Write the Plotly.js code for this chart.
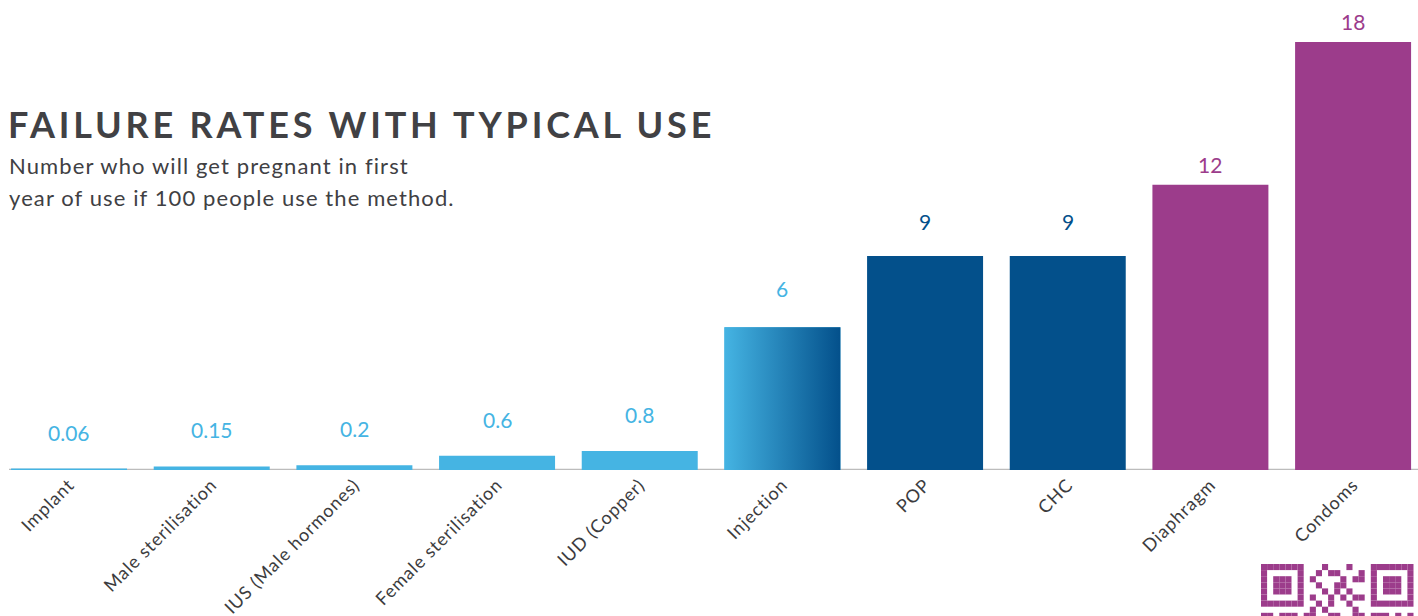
<!DOCTYPE html>
<html>
<head>
<meta charset="utf-8">
<script src="https://cdn.plot.ly/plotly-3.0.1.min.js"></script>
<style>
  html, body { margin: 0; padding: 0; background: #ffffff; }
  #chart { width: 1418px; height: 616px; }
</style>
</head>
<body>
<div id="chart"></div>
<script>
// ---- data ----
const categories = ["Implant", "Male sterilisation", "IUS (Male hormones)", "Female sterilisation",
  "IUD (Copper)", "Injection", "POP", "CHC", "Diaphragm", "Condoms"];
const failureRates = [0.06, 0.15, 0.2, 0.6, 0.8, 6, 9, 9, 12, 18];
const valueLabels = ["0.06", "0.15", "0.2", "0.6", "0.8", "6", "9", "9", "12", "18"];
const groups = ["light", "light", "light", "light", "light", "gradient", "dark", "dark", "purple", "purple"];
const titleText = "FAILURE RATES WITH TYPICAL USE";
const subtitleLines = ["Number who will get pregnant in first", "year of use if 100 people use the method."];

// ---- styles ----
const LIGHT = "#45b4e3", DARK = "#03508b", PURPLE = "#9c3c8b";
const barColor = { light: LIGHT, gradient: LIGHT, dark: DARK, purple: PURPLE };
const labelColor = { light: LIGHT, gradient: LIGHT, dark: DARK, purple: PURPLE };
const labelShift = { light: 22, gradient: 24, dark: 20, purple: 6 };
const BARGAP = 0.187;
const FONT = "Lato, 'Open Sans', sans-serif";

const xIdx = categories.map((_, i) => i);

const traces = [{
  type: "bar",
  x: xIdx,
  y: failureRates,
  marker: { color: groups.map(g => barColor[g]), line: { width: 0 } },
  hoverinfo: "skip",
  showlegend: false
}];

// gradient overlay for the Injection bar (built from its data value)
const bw = 1 - BARGAP;
groups.forEach((g, i) => {
  if (g === "gradient") {
    const v = failureRates[i];
    traces.push({
      type: "scatter",
      mode: "lines",
      x: [i - bw / 2, i + bw / 2, i + bw / 2, i - bw / 2, i - bw / 2],
      y: [0, 0, v, v, 0],
      fill: "toself",
      fillgradient: { type: "horizontal", colorscale: [[0, LIGHT], [1, DARK]] },
      line: { width: 0 },
      hoverinfo: "skip",
      showlegend: false
    });
  }
});

const annotations = failureRates.map((v, i) => ({
  x: xIdx[i], y: v, xref: "x", yref: "y",
  text: valueLabels[i], showarrow: false,
  yanchor: "bottom", yshift: labelShift[groups[i]],
  font: { family: FONT, size: 21, color: labelColor[groups[i]] }
}));
subtitleLines.forEach((line, k) => {
  annotations.push({
    xref: "paper", yref: "paper", x: 7 / 1418, y: 1 - (165 + 32 * k) / 470,
    xanchor: "left", yanchor: "middle", showarrow: false, align: "left",
    text: line, font: { family: FONT, size: 22, color: "#404043" }
  });
});

// decorative QR-code badge (bottom-right)
const qrRows = [
  "1111111000100010001111111",
  "1000001001011000101000001",
  "1011101010000101101011101",
  "1011101001001100001011101",
  "1011101000101010001011101",
  "1000001010010101101000001",
  "1111111001010010001111111",
  "0000000010100001000000000",
  "1101110110011001101110101"
];
const shapes = [{
  type: "line", xref: "paper", yref: "y", x0: 9 / 1418, x1: 1, y0: 0, y1: 0,
  line: { color: "#bcbcbc", width: 2.5 }, layer: "below"
}];
const qrX0 = 1261, qrY0 = 564, mod = 6.1;
qrRows.forEach((row, r) => {
  [...row].forEach((c, k) => {
    if (c === "1") {
      const top = qrY0 + r * mod, bot = top + mod;
      shapes.push({
        type: "rect", xref: "paper", yref: "paper",
        x0: (qrX0 + k * mod) / 1418, x1: (qrX0 + (k + 1) * mod) / 1418,
        y0: (470 - bot) / 470, y1: (470 - top) / 470,
        line: { width: 0 }, fillcolor: PURPLE
      });
    }
  });
});

const layout = {
  width: 1418, height: 616,
  margin: { l: 0, r: 0, t: 0, b: 146, pad: 0 },
  paper_bgcolor: "#ffffff", plot_bgcolor: "#ffffff",
  bargap: BARGAP,
  showlegend: false,
  title: {
    text: "<b>" + titleText + "</b>",
    xref: "container", yref: "container",
    x: 8 / 1418, xanchor: "left", y: 1 - 125 / 616, yanchor: "middle",
    font: { family: FONT, size: 36, color: "#414144" }
  },
  xaxis: {
    range: [-0.484, 9.455], tickmode: "array", tickvals: xIdx, ticktext: categories,
    tickangle: -45, showgrid: false, zeroline: false, showline: false, ticks: "",
    tickfont: { family: FONT, size: 18, color: "#3c3c3e" }, fixedrange: true
  },
  yaxis: {
    range: [0, 19.77], visible: false, showgrid: false, zeroline: false, fixedrange: true
  },
  annotations: annotations,
  shapes: shapes
};

Plotly.newPlot("chart", traces, layout, { displayModeBar: false, staticPlot: true }).then(() => {
  document.querySelectorAll(".gtitle").forEach(el => { el.style.letterSpacing = "3.8px"; });
  document.querySelectorAll(".annotation-text").forEach(el => {
    if (el.textContent.length > 10) el.style.letterSpacing = "1.1px";
  });
  document.querySelectorAll(".xtick text").forEach(el => { el.style.letterSpacing = "0.9px"; });
});
</script>
</body>
</html>
